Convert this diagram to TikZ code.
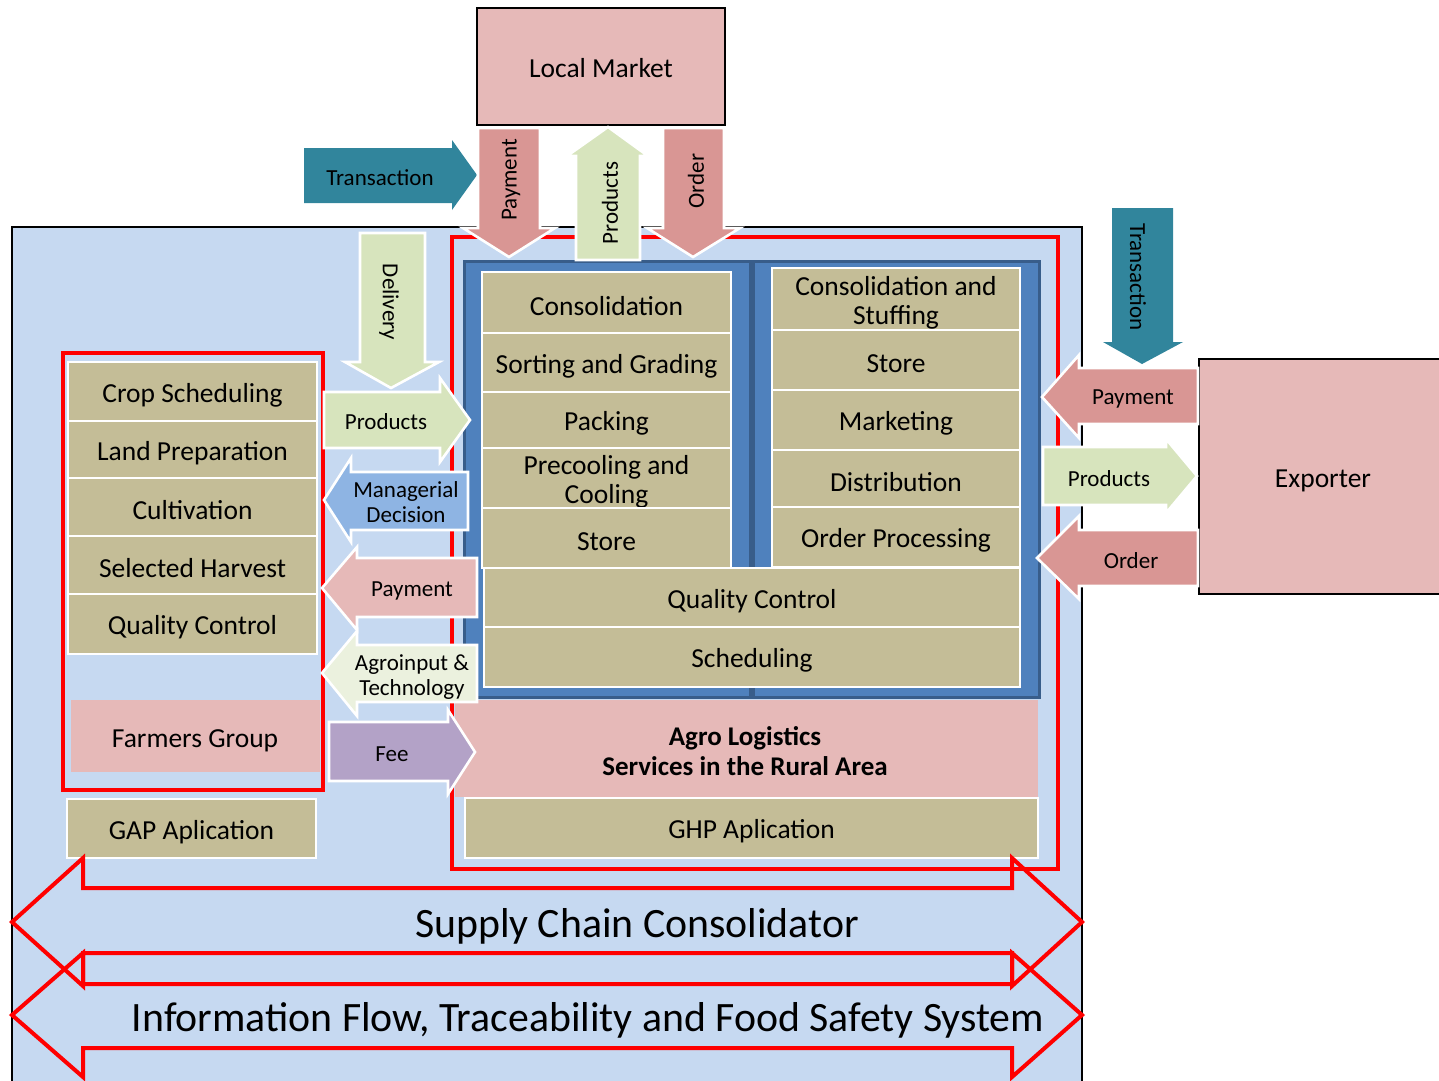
\documentclass[tikz,border=0pt]{standalone}
\usepackage{fontspec}
\setmainfont{Carlito}
\usetikzlibrary{calc}
\definecolor{bgblue}{HTML}{C6D9F1}
\definecolor{tanc}{HTML}{C4BD97}
\definecolor{pinkbox}{HTML}{E6B9B8}
\definecolor{pinkarr}{HTML}{D99694}
\definecolor{greenarr}{HTML}{D7E4BD}
\definecolor{lgreen}{HTML}{EBF1DE}
\definecolor{bluearr}{HTML}{8EB4E3}
\definecolor{purplearr}{HTML}{B3A2C7}
\definecolor{tealarr}{HTML}{31859C}
\definecolor{panelc}{HTML}{4F81BD}
\definecolor{paneldark}{HTML}{385D8A}
\tikzset{
  tanbox/.style={fill=tanc, draw=white, line width=1.6pt},
  boxtxt/.style={font=\fontsize{27.5}{29}\selectfont, align=center, inner sep=0pt},
  alabel/.style={font=\fontsize{23}{25}\selectfont, align=center, inner sep=0pt},
  bigtxt/.style={font=\fontsize{41.8}{45}\selectfont, inner sep=0pt},
  blockarr/.style={draw=white, line width=2.6pt, line join=miter},
  redframe/.style={draw=red, line width=4pt},
  panel/.style={fill=panelc, draw=paneldark, line width=3pt},
  outerbox/.style={draw=black, line width=2pt}
}
\newcommand\tbox[6]{\draw[tanbox] (#2,#3) rectangle (#4,#5); \node (#1) [boxtxt, yshift=-3.5pt] at ($(#2,#3)!0.5!(#4,#5)$) {#6};}
\begin{document}
\begin{tikzpicture}[x=1pt, y=-1pt]
\useasboundingbox (0,0) rectangle (1439,1080);
% background box
\draw[fill=bgblue, draw=black, line width=1.5pt] (12,227) rectangle (1082,1095);
% Local market
\draw[outerbox, fill=pinkbox] (477,8) rectangle (725,125);
\node (lm) [boxtxt] at (601,68) {Local Market};
% Exporter
\draw[outerbox, fill=pinkbox] (1199,359) rectangle (1450,594);
\node (exp) [boxtxt] at (1323,481) {Exporter};
% panels
\draw[panel] (464,261) rectangle (750,697);
\draw[panel] (753,261) rectangle (1039,697);
% left column of panel
\tbox{cons}{482}{272}{731}{333}{Consolidation}
\tbox{sort}{482}{333}{731}{392}{Sorting and Grading}
\tbox{pack}{482}{392}{731}{448}{Packing}
\tbox{prec}{482}{448}{731}{508}{Precooling and\\Cooling}
\tbox{storeA}{482}{508}{731}{568}{Store}
% right column of panel
\tbox{cstuf}{772}{268}{1020}{330}{Consolidation and\\Stuffing}
\tbox{storeB}{772}{330}{1020}{390}{Store}
\tbox{mkt}{772}{390}{1020}{450}{Marketing}
\tbox{dist}{772}{450}{1020}{507}{Distribution}
\tbox{ordp}{772}{507}{1020}{567}{Order Processing}
\tbox{qcB}{484}{568}{1020}{627}{Quality Control}
\tbox{sched}{484}{627}{1020}{687}{Scheduling}
% agro logistics
\fill[pinkbox] (455,700) rectangle (1038,797);
\node (agro) [boxtxt, font=\fontsize{27}{30}\selectfont\bfseries] at (745,751) {Agro Logistics\\Services in the Rural Area};
\tbox{ghp}{465}{798}{1038}{858}{GHP Aplication}
% left column
\tbox{crop}{68}{362}{317}{421}{Crop Scheduling}
\tbox{land}{68}{421}{317}{478}{Land Preparation}
\tbox{cult}{68}{478}{317}{536}{Cultivation}
\tbox{sel}{68}{536}{317}{594}{Selected Harvest}
\tbox{qcA}{68}{594}{317}{654}{Quality Control}
\fill[pinkbox] (71,700) rectangle (320,772);
\node (farm) [boxtxt] at (195,741) {Farmers Group};
\tbox{gap}{67}{799}{316}{858}{GAP Aplication}
% red frames
\draw[redframe] (452,237) rectangle (1058,869);
\draw[redframe] (63,353) rectangle (323,790);
% top arrows
\fill[tealarr] (304,148) -- (452,148) -- (452,140) -- (477,175) -- (452,210) -- (452,203) -- (304,203) -- cycle;
\node (transA) [alabel] at (380,178) {Transaction};
\draw[blockarr, fill=pinkarr] (478,128) -- (540,128) -- (540,228) -- (555,228) -- (509,257) -- (463,228) -- (478,228) -- cycle;
\node (payA) [alabel, rotate=90] at (511,180) {Payment};
\draw[blockarr, fill=greenarr] (576,260) -- (640,260) -- (640,156) -- (648,156) -- (608,127) -- (567,156) -- (576,156) -- cycle;
\node (prodA) [alabel, rotate=90] at (610,203) {Products};
\draw[blockarr, fill=pinkarr] (663,128) -- (724,128) -- (724,228) -- (740,228) -- (693,257) -- (647,228) -- (663,228) -- cycle;
\node (ordA) [alabel, rotate=90] at (696,181) {Order};
% middle arrows
\draw[blockarr, fill=greenarr] (360,233) -- (425,233) -- (425,362) -- (439,362) -- (391,388) -- (345,362) -- (360,362) -- cycle;
\node (deliv) [alabel, rotate=-90] at (389,302) {Delivery};
\draw[blockarr, fill=greenarr] (324,392) -- (440,392) -- (440,378) -- (470,420) -- (440,462) -- (440,448) -- (324,448) -- cycle;
\node (prodB) [alabel] at (386,422) {Products};
\draw[blockarr, fill=bluearr] (468,472) -- (351,472) -- (351,458) -- (324,500) -- (351,542) -- (351,530) -- (468,530) -- cycle;
\node (mgr) [alabel] at (406,502) {Managerial\\Decision};
\draw[blockarr, fill=pinkbox] (477,558) -- (357,558) -- (357,547) -- (322,588) -- (357,630) -- (357,617) -- (477,617) -- cycle;
\node (payB) [alabel] at (412,591) {Payment};
\draw[blockarr, fill=lgreen] (477,645) -- (357,645) -- (357,631) -- (322,673) -- (357,716) -- (357,702) -- (477,702) -- cycle;
\node (agri) [alabel] at (412,677) {Agroinput \&\\Technology};
\draw[blockarr, fill=purplearr] (329,722) -- (448,722) -- (448,710) -- (475,752) -- (448,794) -- (448,781) -- (329,781) -- cycle;
\node (fee) [alabel] at (392,754) {Fee};
% right arrows
\fill[tealarr] (1112,208) -- (1173,208) -- (1173,342) -- (1183,342) -- (1142,364) -- (1103,342) -- (1112,342) -- cycle;
\node (transB) [alabel, rotate=-90] at (1138,277) {Transaction};
\draw[blockarr, fill=pinkarr] (1198,368) -- (1079,368) -- (1079,355) -- (1042,397) -- (1079,438) -- (1079,424) -- (1198,424) -- cycle;
\node (payC) [alabel] at (1133,399) {Payment};
\draw[blockarr, fill=greenarr] (1043,447) -- (1166,447) -- (1166,439) -- (1197,476) -- (1166,513) -- (1166,505) -- (1043,505) -- cycle;
\node (prodC) [alabel] at (1109,479) {Products};
\draw[blockarr, fill=pinkarr] (1198,530) -- (1079,530) -- (1079,516) -- (1037,558) -- (1079,599) -- (1079,586) -- (1198,586) -- cycle;
\node (ordC) [alabel] at (1131,561) {Order};
% bottom double arrows
\draw[redframe, line join=miter] (83,888) -- (83,858) -- (12,922) -- (83,986) -- (83,953) -- (1012,953) -- (1012,986) -- (1082,922) -- (1012,858) -- (1012,888) -- cycle;
\node (scc) [bigtxt] at (637,926) {Supply Chain Consolidator};
\draw[redframe, line join=miter] (83,984) -- (83,953) -- (12,1015) -- (83,1077) -- (83,1048) -- (1012,1048) -- (1012,1077) -- (1082,1015) -- (1012,953) -- (1012,984) -- cycle;
\node (info) [bigtxt] at (588,1020) {Information Flow, Traceability and Food Safety System};
\end{tikzpicture}
\end{document}
